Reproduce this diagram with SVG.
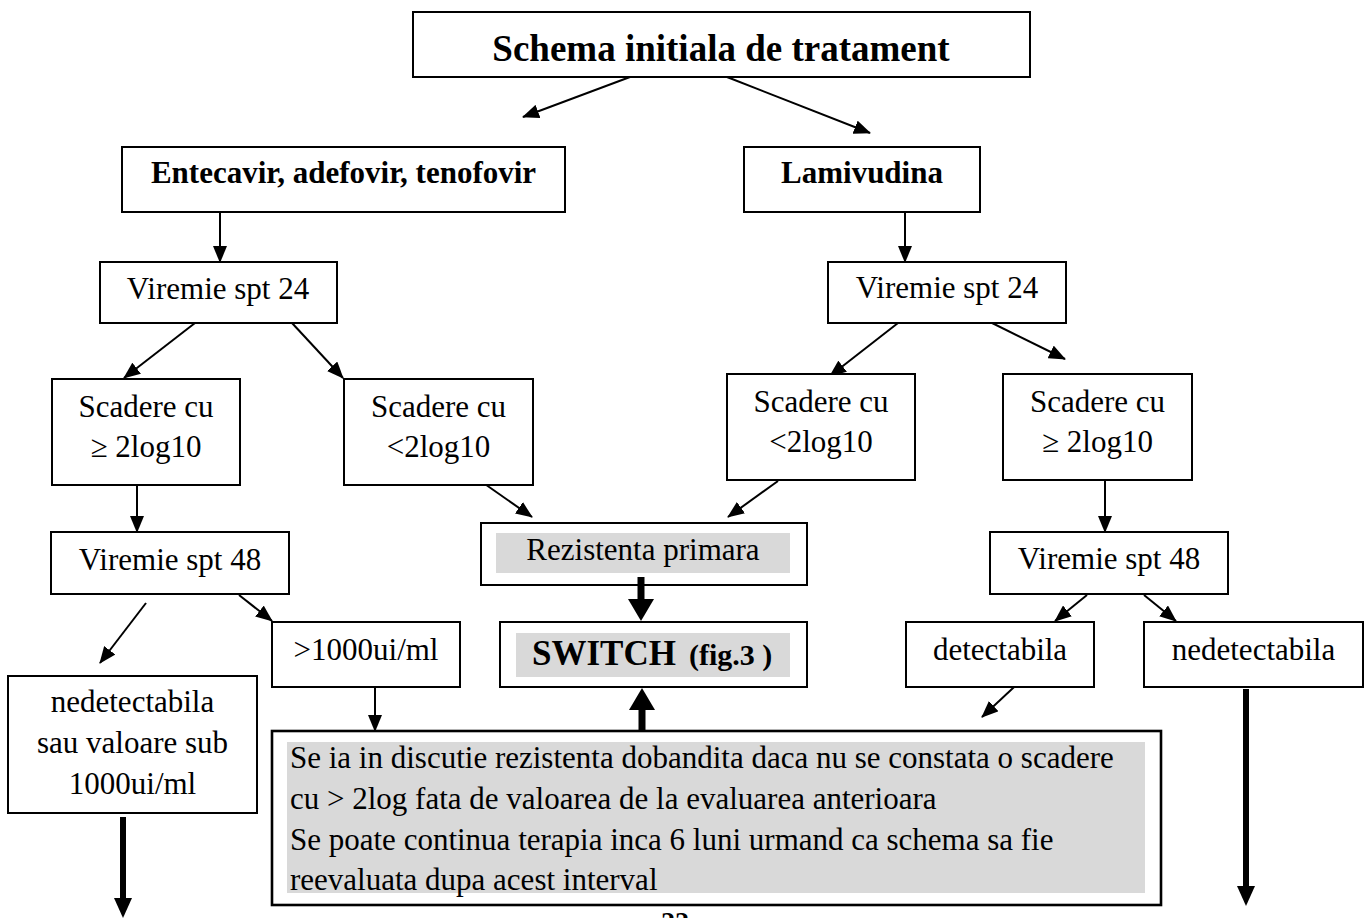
<svg xmlns="http://www.w3.org/2000/svg" width="1369" height="918" viewBox="0 0 1369 918">
<style>
  .box { fill: #ffffff; stroke: #000000; stroke-width: 2; }
  .bigbox { fill: #ffffff; stroke: #000000; stroke-width: 2.6; }
  .gray { fill: #d9d9d9; stroke: none; }
  .t { font-family: "Liberation Serif", "Times New Roman", serif; font-size: 31px; fill: #000; text-anchor: middle; }
  .tl { font-family: "Liberation Serif", "Times New Roman", serif; font-size: 31px; fill: #000; text-anchor: start; }
  .b { font-weight: bold; }
  .c { fill: none; stroke: #000; stroke-width: 2; }
  .thick { fill: none; stroke: #000; stroke-width: 6; }
</style>
<defs>
  <marker id="ah" markerUnits="userSpaceOnUse" viewBox="0 0 17 14" refX="16" refY="7" markerWidth="17" markerHeight="14" orient="auto">
    <path d="M0,0 L17,7 L0,14 z" fill="#000"/>
  </marker>
  <marker id="ahT" markerUnits="userSpaceOnUse" viewBox="0 0 20 18" refX="0" refY="9" markerWidth="20" markerHeight="18" orient="auto">
    <path d="M0,0 L20,9 L0,18 z" fill="#000"/>
  </marker>
  <marker id="ahW" markerUnits="userSpaceOnUse" viewBox="0 0 22 26" refX="0" refY="13" markerWidth="22" markerHeight="26" orient="auto">
    <path d="M0,0 L22,13 L0,26 z" fill="#000"/>
  </marker>
</defs>
<rect width="1369" height="918" fill="#ffffff"/>

<g id="connectors">
  <line class="c" x1="630" y1="77" x2="523" y2="117" marker-end="url(#ah)"/>
  <line class="c" x1="727" y1="77" x2="870" y2="133" marker-end="url(#ah)"/>
  <line class="c" x1="220" y1="212" x2="220" y2="262" marker-end="url(#ah)"/>
  <line class="c" x1="905" y1="212" x2="905" y2="262" marker-end="url(#ah)"/>
  <line class="c" x1="195" y1="323" x2="124" y2="378" marker-end="url(#ah)"/>
  <line class="c" x1="292" y1="323" x2="343" y2="378" marker-end="url(#ah)"/>
  <line class="c" x1="898" y1="323" x2="830" y2="376" marker-end="url(#ah)"/>
  <line class="c" x1="982" y1="318" x2="1065" y2="359" marker-end="url(#ah)"/>
  <line class="c" x1="137" y1="485" x2="137" y2="532" marker-end="url(#ah)"/>
  <line class="c" x1="482" y1="482" x2="532" y2="517" marker-end="url(#ah)"/>
  <line class="c" x1="778" y1="481" x2="728" y2="517" marker-end="url(#ah)"/>
  <line class="c" x1="1105" y1="480" x2="1105" y2="532" marker-end="url(#ah)"/>
  <line class="c" x1="146" y1="603" x2="100" y2="663" marker-end="url(#ah)"/>
  <line class="c" x1="239" y1="595" x2="272" y2="621" marker-end="url(#ah)"/>
  <line class="c" x1="1087" y1="595" x2="1055" y2="621" marker-end="url(#ah)"/>
  <line class="c" x1="1144" y1="595" x2="1176" y2="621" marker-end="url(#ah)"/>
  <line class="c" x1="375" y1="687" x2="375" y2="731" marker-end="url(#ah)"/>
  <line class="c" x1="1026" y1="676" x2="982" y2="717" marker-end="url(#ah)"/>
</g>

<g id="n-top">
  <rect class="box" x="413" y="12" width="617" height="65"/>
  <text class="t b" x="721" y="61" style="font-size:37px">Schema initiala de tratament</text>
</g>
<g id="n-entecavir">
  <rect class="box" x="122" y="147" width="443" height="65"/>
  <text class="t b" x="343.5" y="183">Entecavir, adefovir, tenofovir</text>
</g>
<g id="n-lamivudina">
  <rect class="box" x="744" y="147" width="236" height="65"/>
  <text class="t b" x="862" y="183">Lamivudina</text>
</g>
<g id="n-vir24-left">
  <rect class="box" x="100" y="262" width="237" height="61"/>
  <text class="t" x="218" y="299">Viremie spt 24</text>
</g>
<g id="n-vir24-right">
  <rect class="box" x="828" y="262" width="238" height="61"/>
  <text class="t" x="947" y="298">Viremie spt 24</text>
</g>
<g id="n-scad-ge-left">
  <rect class="box" x="52" y="379" width="188" height="106"/>
  <text class="t" x="146" y="417">Scadere cu</text>
  <text class="t" x="146" y="457">≥ 2log10</text>
</g>
<g id="n-scad-lt-left">
  <rect class="box" x="344" y="379" width="189" height="106"/>
  <text class="t" x="438.5" y="417">Scadere cu</text>
  <text class="t" x="438.5" y="457">&lt;2log10</text>
</g>
<g id="n-scad-lt-right">
  <rect class="box" x="727" y="374" width="188" height="106"/>
  <text class="t" x="821" y="412">Scadere cu</text>
  <text class="t" x="821" y="452">&lt;2log10</text>
</g>
<g id="n-scad-ge-right">
  <rect class="box" x="1003" y="374" width="189" height="106"/>
  <text class="t" x="1097.5" y="412">Scadere cu</text>
  <text class="t" x="1097.5" y="452">≥ 2log10</text>
</g>
<g id="n-rezistenta">
  <rect class="box" x="481" y="523" width="326" height="62"/>
  <rect class="gray" x="496" y="533" width="294" height="40"/>
  <text class="t" x="643" y="560">Rezistenta primara</text>
</g>
<g id="n-vir48-left">
  <rect class="box" x="51" y="532" width="238" height="62"/>
  <text class="t" x="170" y="570">Viremie spt 48</text>
</g>
<g id="n-vir48-right">
  <rect class="box" x="990" y="532" width="238" height="62"/>
  <text class="t" x="1109" y="569">Viremie spt 48</text>
</g>
<g id="n-1000">
  <rect class="box" x="272" y="622" width="188" height="65"/>
  <text class="t" x="366" y="660">&gt;1000ui/ml</text>
</g>
<g id="n-switch">
  <rect class="box" x="500" y="622" width="307" height="65"/>
  <rect class="gray" x="516" y="633" width="274" height="44"/>
  <text class="tl b" x="532" y="665" style="font-size:35px">SWITCH<tspan x="689" style="font-size:30px">(fig.3 )</tspan></text>
</g>
<g id="n-detectabila">
  <rect class="box" x="906" y="622" width="188" height="65"/>
  <text class="t" x="1000" y="660">detectabila</text>
</g>
<g id="n-nedetectabila-right">
  <rect class="box" x="1144" y="622" width="219" height="65"/>
  <text class="t" x="1253.5" y="660">nedetectabila</text>
</g>
<g id="n-nedetectabila-left">
  <rect class="box" x="8" y="676" width="249" height="137"/>
  <text class="t" x="132.5" y="712">nedetectabila</text>
  <text class="t" x="132.5" y="753">sau valoare sub</text>
  <text class="t" x="132.5" y="794">1000ui/ml</text>
</g>
<g id="n-rezistenta-dobandita">
  <rect class="bigbox" x="272" y="731" width="889" height="174"/>
  <rect class="gray" x="287" y="742" width="858" height="151"/>
  <text class="tl" x="290" y="768">Se ia in discutie rezistenta dobandita daca nu se constata o scadere</text>
  <text class="tl" x="290" y="809">cu &gt; 2log fata de valoarea de la evaluarea anterioara</text>
  <text class="tl" x="290" y="850">Se poate continua terapia inca 6 luni urmand ca schema sa fie</text>
  <text class="tl" x="290" y="890">reevaluata dupa acest interval</text>
</g>

<g id="thick-connectors">
  <line class="thick" style="stroke-width:7" x1="641" y1="577" x2="641" y2="599" marker-end="url(#ahW)"/>
  <line class="thick" style="stroke-width:7" x1="642" y1="731" x2="642" y2="710" marker-end="url(#ahW)"/>
  <line class="thick" x1="123" y1="817" x2="123" y2="898" marker-end="url(#ahT)"/>
  <line class="thick" x1="1246" y1="689" x2="1246" y2="886" marker-end="url(#ahT)"/>
</g>

<text class="t b" x="675" y="931" style="font-size:28px">22</text>
</svg>
